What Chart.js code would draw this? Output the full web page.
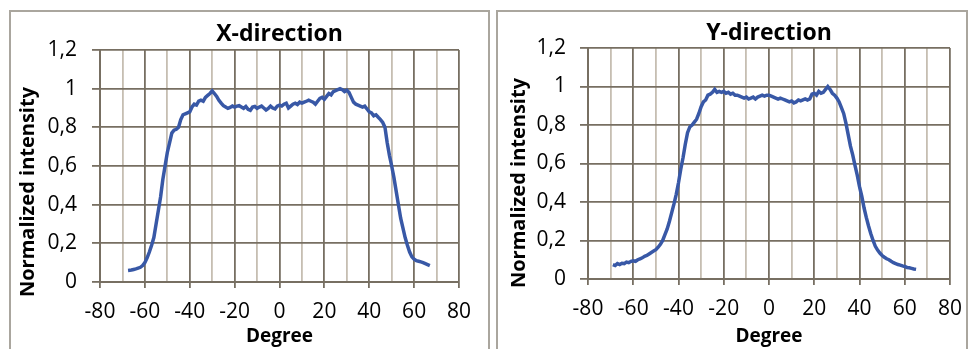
<!DOCTYPE html>
<html>
<head>
<meta charset="utf-8">
<script src="https://cdn.jsdelivr.net/npm/chart.js@4"></script>
<style>
  body { margin: 0; background: #fff; width: 969px; height: 349px; overflow: hidden; position: relative; }
  .panel { position: absolute; top: 10px; height: 345px; border: 2px solid #aaa69e; box-sizing: border-box; }
  .box { position: absolute; }
</style>
</head>
<body>
<div class="panel" style="left:9px; width:481px;"></div>
<div class="panel" style="left:496px; width:472px;"></div>
<div class="box" style="left:11px; top:12px; width:476px; height:337px;"><canvas id="xDirection"></canvas></div>
<div class="box" style="left:499px; top:12px; width:466px; height:337px;"><canvas id="yDirection"></canvas></div>
<script>
// X-direction profile
const xDegree = [-67.5, -66, -65, -64, -63, -62, -61, -60, -59, -58, -57, -56, -55, -54, -53, -52, -51, -50,
  -49, -48, -47, -46, -45, -44, -43, -42, -41, -40, -39, -38, -37, -36, -35, -34, -33, -32, -31, -30,
  -29, -28, -27, -26, -25, -24, -23, -22, -21, -20, -19, -18, -17, -16, -15, -14, -13, -12, -11, -10,
  -9, -8, -7, -6, -5, -4, -3, -2, -1, 0, 1, 2, 3, 4, 5, 6, 7, 8, 9, 10,
  11, 12, 13, 14, 15, 16, 17, 18, 19, 20, 21, 22, 23, 24, 25, 26, 27, 28, 29, 30,
  31, 32, 33, 34, 35, 36, 37, 38, 39, 40, 41, 42, 43, 44, 45, 46, 47, 48, 49, 50,
  51, 52, 53, 54, 55, 56, 57, 58, 59, 60, 61, 62, 63, 64, 65, 66, 67]
const xIntensity = [0.060, 0.062, 0.065, 0.068, 0.072, 0.076, 0.085, 0.100, 0.125, 0.155, 0.190, 0.230, 0.300, 0.370, 0.440, 0.530, 0.600, 0.670,
  0.720, 0.770, 0.785, 0.790, 0.800, 0.840, 0.865, 0.870, 0.875, 0.880, 0.905, 0.920, 0.915, 0.935, 0.940, 0.935, 0.955, 0.965, 0.975, 0.988,
  0.975, 0.960, 0.940, 0.925, 0.912, 0.905, 0.898, 0.903, 0.910, 0.905, 0.910, 0.912, 0.905, 0.898, 0.908, 0.893, 0.888, 0.905, 0.908, 0.898,
  0.905, 0.910, 0.900, 0.890, 0.898, 0.910, 0.900, 0.895, 0.910, 0.915, 0.910, 0.920, 0.925, 0.900, 0.910, 0.920, 0.925, 0.918, 0.930, 0.925,
  0.930, 0.935, 0.940, 0.935, 0.930, 0.920, 0.935, 0.950, 0.955, 0.945, 0.960, 0.975, 0.968, 0.985, 0.990, 0.995, 1.000, 0.995, 0.985, 0.992,
  0.980, 0.955, 0.930, 0.920, 0.915, 0.910, 0.905, 0.910, 0.895, 0.880, 0.875, 0.860, 0.865, 0.852, 0.840, 0.825, 0.800, 0.720, 0.655, 0.600,
  0.540, 0.470, 0.400, 0.330, 0.280, 0.230, 0.190, 0.155, 0.130, 0.118, 0.110, 0.107, 0.104, 0.100, 0.095, 0.090, 0.085]

// Y-direction profile
const yDegree = [-69, -68, -67, -66, -65, -64, -63, -62, -61, -60, -59, -58, -57, -56, -55, -54, -53, -52, -51, -50,
  -49, -48, -47, -46, -45, -44, -43, -42, -41, -40, -39, -38, -37, -36, -35, -34, -33, -32, -31, -30,
  -29, -28, -27, -26, -25, -24, -23, -22, -21, -20, -19, -18, -17, -16, -15, -14, -13, -12, -11, -10,
  -9, -8, -7, -6, -5, -4, -3, -2, -1, 0, 1, 2, 3, 4, 5, 6, 7, 8, 9, 10,
  11, 12, 13, 14, 15, 16, 17, 18, 19, 20, 21, 22, 23, 24, 25, 26, 27, 28, 29, 30,
  31, 32, 33, 34, 35, 36, 37, 38, 39, 40, 41, 42, 43, 44, 45, 46, 47, 48, 49, 50,
  51, 52, 53, 54, 55, 56, 57, 58, 59, 60, 61, 62, 63, 64, 65]
const yIntensity = [0.075, 0.070, 0.080, 0.075, 0.082, 0.080, 0.088, 0.085, 0.092, 0.095, 0.092, 0.100, 0.105, 0.110, 0.118, 0.122, 0.130, 0.138, 0.145, 0.152,
  0.165, 0.180, 0.200, 0.230, 0.260, 0.300, 0.345, 0.390, 0.440, 0.500, 0.570, 0.630, 0.700, 0.760, 0.790, 0.800, 0.815, 0.830, 0.860, 0.895,
  0.920, 0.930, 0.955, 0.960, 0.970, 0.985, 0.970, 0.975, 0.970, 0.975, 0.965, 0.970, 0.960, 0.965, 0.955, 0.955, 0.950, 0.945, 0.940, 0.945,
  0.935, 0.940, 0.945, 0.935, 0.945, 0.950, 0.955, 0.950, 0.955, 0.955, 0.950, 0.945, 0.940, 0.935, 0.940, 0.935, 0.930, 0.925, 0.920, 0.925,
  0.915, 0.920, 0.930, 0.925, 0.930, 0.935, 0.930, 0.935, 0.960, 0.965, 0.955, 0.975, 0.965, 0.970, 0.985, 1.000, 0.985, 0.965, 0.955, 0.940,
  0.920, 0.890, 0.860, 0.810, 0.750, 0.690, 0.645, 0.590, 0.540, 0.480, 0.430, 0.370, 0.320, 0.275, 0.235, 0.200, 0.170, 0.150, 0.135, 0.122,
  0.113, 0.105, 0.100, 0.092, 0.085, 0.080, 0.075, 0.072, 0.068, 0.065, 0.060, 0.058, 0.055, 0.052, 0.050]

const xTicks = [-80, -60, -40, -20, 0, 20, 40, 60, 80]
const yTicks = ['0', '0,2', '0,4', '0,6', '0,8', '1', '1,2']

const lineColor = '#3858a6'
const majorGrid = '#776f62'
const minorGrid = '#c6beb2'
const textColor = '#000000'
Chart.defaults.font.family = "'Open Sans', sans-serif"
Chart.defaults.color = textColor

// draws the rotated y-axis title at a given spot (Excel puts it lower than the plot centre)
const sideTitle = {
    id: 'sideTitle',
    afterDraw(chart, args, opts) {
        const ctx = chart.ctx
        ctx.save()
        ctx.translate(opts.x, opts.y)
        ctx.rotate(-Math.PI / 2)
        ctx.font = "bold 20px 'Open Sans', sans-serif"
        ctx.fillStyle = textColor
        ctx.textAlign = 'center'
        ctx.textBaseline = 'middle'
        ctx.fillText(opts.text, 0, 0)
        ctx.restore()
    }
}

function makeConfig(title, degrees, values, box) {
    return {
        type: 'line',
        data: {
            datasets: [{
                data: degrees.map((d, i) => ({ x: d, y: values[i] })),
                borderColor: lineColor,
                borderWidth: 3.5,
                pointRadius: 0,
                tension: 0,
                fill: false
            }]
        },
        options: {
            responsive: true,
            maintainAspectRatio: false,
            animation: false,
            layout: { padding: { left: 0, right: box.padRight, top: 0, bottom: 0 } },
            scales: {
                x: {
                    type: 'linear',
                    min: -80,
                    max: 80,
                    afterFit: s => { s.height = box.xHeight; s.paddingLeft = 0; s.paddingRight = 0 },
                    border: { color: majorGrid, width: 2 },
                    grid: {
                        color: c => (c.tick && c.tick.value % 20 === 0) ? majorGrid : minorGrid,
                        tickColor: c => (c.tick && c.tick.value % 20 === 0) ? majorGrid : 'rgba(0,0,0,0)',
                        lineWidth: 1.8,
                        tickLength: 6
                    },
                    ticks: {
                        stepSize: 10,
                        autoSkip: false,
                        maxRotation: 0,
                        padding: box.xTickPad,
                        font: { size: 21 },
                        color: textColor,
                        callback: v => xTicks.includes(v) ? String(v) : ''
                    },
                    title: {
                        display: true,
                        text: 'Degree',
                        font: { size: 19, weight: 'bold' },
                        color: textColor,
                        padding: { top: 0, bottom: box.degreePad }
                    }
                },
                y: {
                    min: 0,
                    max: 1.2,
                    afterFit: s => { s.width = 89; s.paddingTop = 0; s.paddingBottom = 0 },
                    border: { color: majorGrid, width: 2 },
                    grid: { color: majorGrid, lineWidth: 1.8, tickLength: 8 },
                    ticks: {
                        stepSize: 0.2,
                        padding: box.yTickPad,
                        font: { size: 21 },
                        color: textColor,
                        callback: v => yTicks[Math.round(v * 5)]
                    }
                }
            },
            plugins: {
                legend: { display: false },
                tooltip: { enabled: false },
                title: {
                    display: true,
                    text: title,
                    fullSize: false,
                    color: textColor,
                    font: { size: 23, weight: 'bold' },
                    padding: { top: box.titleTop, bottom: box.titleBottom }
                },
                sideTitle: { text: 'Normalized intensity', x: box.sideX, y: box.sideY }
            }
        },
        plugins: [sideTitle]
    }
}

const xDirectionChart = new Chart(
    document.getElementById('xDirection'),
    makeConfig('X-direction', xDegree, xIntensity,
        { padRight: 28, xHeight: 67, xTickPad: 11, degreePad: 1, yTickPad: 15, titleTop: 9, titleBottom: 1.4, sideX: 17, sideY: 180 })
)

const yDirectionChart = new Chart(
    document.getElementById('yDirection'),
    makeConfig('Y-direction', yDegree, yIntensity,
        { padRight: 15, xHeight: 70, xTickPad: 11, degreePad: 0.6, yTickPad: 14, titleTop: 7.2, titleBottom: 1.2, sideX: 20, sideY: 171 })
)
</script>
</body>
</html>
